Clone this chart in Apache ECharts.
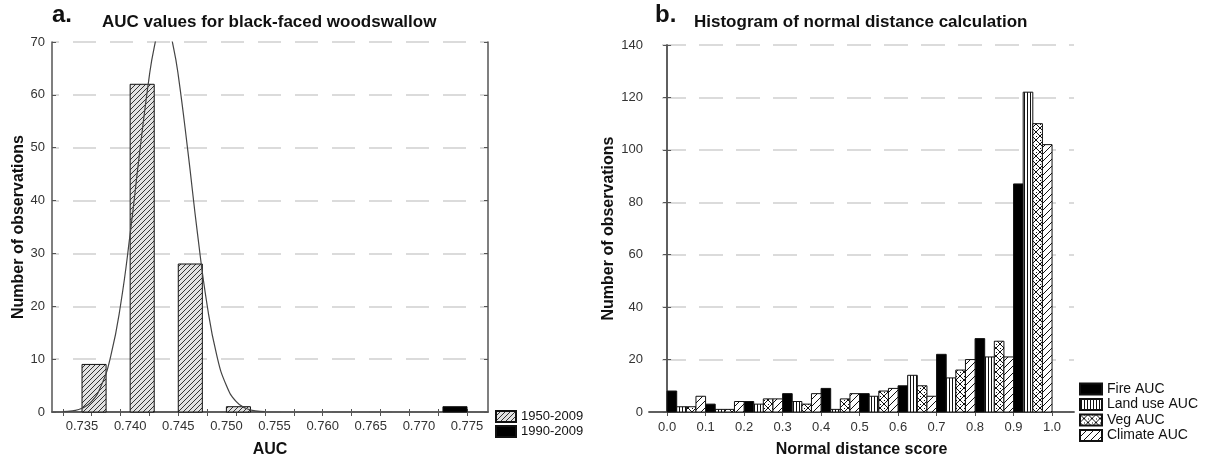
<!DOCTYPE html>
<html>
<head>
<meta charset="utf-8">
<script src="https://cdn.jsdelivr.net/npm/echarts@6/dist/echarts.min.js"></script>
<style>
html,body{margin:0;padding:0;background:#fff;}
#c{width:1207px;height:463px;}
</style>
</head>
<body>
<div id="c"></div>
<script>
// ---------- data (panel a) ----------
const aBinStarts1950 = [0.735, 0.740, 0.745, 0.750];
const aCounts1950 = [9, 62, 28, 1];
const aBinStarts1990 = [0.770];
const aCounts1990 = [1];
const aBinWidth = 0.005;
const aCurveX = [0.7330, 0.7340, 0.7350, 0.7360, 0.7370, 0.7380, 0.7390, 0.7400, 0.7410, 0.7420, 0.7425, 0.7430, 0.7435, 0.7440, 0.7445, 0.7450, 0.7460, 0.7470, 0.7480, 0.7490, 0.7500, 0.7510, 0.7520, 0.7530, 0.7540];
const aCurveY = [0.07, 0.23, 0.7, 2.0, 5.0, 10.7, 20.2, 33.7, 49.3, 63.7, 69, 72.3, 73.5, 72.3, 69, 63.7, 49.3, 33.7, 20.2, 10.7, 5.0, 2.0, 0.7, 0.23, 0.07];
const aTickLabels = [0.735, 0.740, 0.745, 0.750, 0.755, 0.760, 0.765, 0.770, 0.775];
const aMinorTicks = [0.733, 0.736, 0.739, 0.742, 0.745, 0.748, 0.751, 0.754, 0.757, 0.760, 0.763, 0.766, 0.769, 0.772, 0.775];
const aSeriesNames = ['1950-2009', '1990-2009'];

// ---------- data (panel b) ----------
const bBinStarts = [0.0, 0.1, 0.2, 0.3, 0.4, 0.5, 0.6, 0.7, 0.8, 0.9];
const bBinWidth = 0.1;
const bFire = [8, 3, 4, 7, 9, 7, 10, 22, 28, 87];
const bLandUse = [2, 1, 3, 4, 1, 6, 14, 13, 21, 122];
const bVeg = [2, 1, 5, 3, 5, 8, 10, 16, 27, 110];
const bClimate = [6, 4, 5, 7, 7, 9, 6, 20, 21, 102];
const bTickLabels = [0.0, 0.1, 0.2, 0.3, 0.4, 0.5, 0.6, 0.7, 0.8, 0.9, 1.0];
const bSeriesNames = ['Fire AUC', 'Land use AUC', 'Veg AUC', 'Climate AUC'];

// ---------- patterns ----------
function pattern(size, bg, fg, kind, lw) {
  const c = document.createElement('canvas');
  c.width = size; c.height = size;
  const g = c.getContext('2d');
  g.fillStyle = bg; g.fillRect(0, 0, size, size);
  g.strokeStyle = fg; g.lineWidth = lw;
  g.beginPath();
  if (kind === 'fwd' || kind === 'cross') {
    for (const k of [-size, 0, size]) { g.moveTo(k, size); g.lineTo(k + size, 0); }
  }
  if (kind === 'back' || kind === 'cross') {
    for (const k of [-size, 0, size]) { g.moveTo(k, 0); g.lineTo(k + size, size); }
  }
  if (kind === 'vert') {
    g.moveTo(Math.floor(size / 2) + 0.5, 0); g.lineTo(Math.floor(size / 2) + 0.5, size);
  }
  g.stroke();
  if (kind === 'cross') {
    g.fillStyle = fg;
    g.fillRect(Math.floor(size / 2), 0, 1, 1);
    g.fillRect(0, Math.floor(size / 2), 1, 1);
  }
  return { image: c, repeat: 'repeat' };
}
const patA = pattern(5, '#e2e2e2', '#333', 'fwd', 1);
const patFire = '#000';
const patLand = pattern(3, '#fff', '#111', 'vert', 1);
const patVeg = pattern(8, '#fff', '#111', 'cross', 1);
const patClimate = pattern(7, '#fff', '#111', 'fwd', 1);

const FONT = 'Liberation Sans, Arial, sans-serif';

function histRender(binW, nSub, idx, fill) {
  return function (params, api) {
    const x0 = api.value(0) + binW * idx / nSub;
    const x1 = x0 + binW / nSub;
    const p0 = api.coord([x0, api.value(1)]);
    const p1 = api.coord([x1, 0]);
    return {
      type: 'rect',
      shape: { x: p0[0], y: p0[1], width: p1[0] - p0[0], height: p1[1] - p0[1] },
      style: { fill: fill, stroke: '#111', lineWidth: 1 }
    };
  };
}
function zip(xs, ys) { return xs.map((x, i) => [x, ys[i]]); }

const axisLineStyle = { show: true, lineStyle: { color: '#555', width: 1.5 } };
const gridLine = { show: true, lineStyle: { color: '#cfcfcf', width: 1.5, type: [23, 14], dashOffset: 16 } };
const tickLbl = { color: '#333', fontSize: 13, fontFamily: FONT };
const nameStyle = { color: '#111', fontSize: 16, fontWeight: 'bold', fontFamily: FONT };
const titleStyle = { fontSize: 17, fontWeight: 'bold', color: '#111', fontFamily: FONT };
const letterStyle = { fontSize: 24, fontWeight: 'bold', color: '#111', fontFamily: FONT };

const option = {
  animation: false,
  backgroundColor: '#fff',
  title: [
    { text: 'a.', left: 52, top: 3, padding: 0, textStyle: letterStyle },
    { text: 'AUC values for black-faced woodswallow', left: 102, top: 14, padding: 0, textStyle: titleStyle },
    { text: 'b.', left: 655, top: 3, padding: 0, textStyle: letterStyle },
    { text: 'Histogram of normal distance calculation', left: 694, top: 14, padding: 0, textStyle: titleStyle }
  ],
  legend: [
    {
      data: aSeriesNames, orient: 'vertical', left: 495, top: 410, padding: 0,
      itemWidth: 20, itemHeight: 11, itemGap: 2, icon: 'rect',
      textStyle: { fontSize: 13, color: '#111', fontFamily: FONT },
      selectedMode: false
    },
    {
      data: bSeriesNames, orient: 'vertical', left: 1079, top: 382, padding: 0,
      itemWidth: 22, itemHeight: 11, itemGap: 1.5, icon: 'rect',
      textStyle: { fontSize: 14, color: '#111', fontFamily: FONT },
      selectedMode: false
    }
  ],
  grid: [
    { left: 52, right: 719, top: 42, bottom: 50 },
    { left: 649, right: 133, top: 45, bottom: 48 }
  ],
  xAxis: [
    {
      gridIndex: 0, type: 'value', position: 'bottom', min: 0.73188, max: 0.77718,
      axisLine: axisLineStyle,
      axisTick: { show: true, inside: true, length: 3, customValues: aMinorTicks, lineStyle: { color: '#555' } },
      axisLabel: Object.assign({ customValues: aTickLabels, margin: 8, formatter: v => Number(v).toFixed(3) }, tickLbl),
      splitLine: { show: false },
      name: 'AUC', nameLocation: 'middle', nameGap: 30, nameTextStyle: nameStyle
    },
    {
      gridIndex: 0, type: 'value', position: 'top', min: 0.73188, max: 0.77718,
      axisLine: axisLineStyle,
      axisTick: { show: true, inside: true, length: 4, customValues: aMinorTicks, lineStyle: { color: '#555' } },
      axisLabel: { show: false }, splitLine: { show: false }
    },
    {
      gridIndex: 1, type: 'value', position: 'bottom', min: -0.047, max: 1.057,
      axisLine: axisLineStyle,
      axisTick: { show: false },
      axisLabel: Object.assign({ customValues: bTickLabels, margin: 9, formatter: v => Number(v).toFixed(1) }, tickLbl),
      splitLine: { show: false },
      name: 'Normal distance score', nameLocation: 'middle', nameGap: 30, nameTextStyle: nameStyle
    },
    {
      gridIndex: 1, type: 'value', position: 'top', min: -0.047, max: 1.057,
      axisLine: axisLineStyle,
      axisTick: { show: true, inside: true, length: 4, customValues: bTickLabels, lineStyle: { color: '#555' } },
      axisLabel: { show: false }, splitLine: { show: false }
    }
  ],
  yAxis: [
    {
      gridIndex: 0, type: 'value', min: 0, max: 70, interval: 10, position: 'left',
      axisLine: axisLineStyle,
      axisTick: { show: true, inside: true, length: 4, lineStyle: { color: '#555' } },
      axisLabel: Object.assign({ margin: 7 }, tickLbl),
      splitLine: gridLine,
      name: 'Number of observations', nameLocation: 'middle', nameRotate: 90, nameGap: 21, nameTextStyle: nameStyle
    },
    {
      gridIndex: 0, type: 'value', min: 0, max: 70, interval: 10, position: 'right',
      axisLine: axisLineStyle,
      axisTick: { show: true, inside: true, length: 4, lineStyle: { color: '#555' } },
      axisLabel: { show: false }, splitLine: { show: false }
    },
    {
      gridIndex: 1, type: 'value', min: 0, max: 140, interval: 20, position: 'left',
      axisLine: axisLineStyle,
      axisTick: { show: true, inside: true, length: 4, lineStyle: { color: '#555' } },
      axisLabel: Object.assign({ margin: 6 }, tickLbl),
      splitLine: { show: true, lineStyle: { color: '#cfcfcf', width: 1.5, type: [24, 13], dashOffset: 24 } },
      name: 'Number of observations', nameLocation: 'middle', nameRotate: 90, nameGap: 32, nameTextStyle: nameStyle
    },
    {
      gridIndex: 1, type: 'value', min: 0, max: 140, interval: 20, position: 'right',
      axisLine: axisLineStyle,
      axisTick: { show: true, inside: true, length: 4, lineStyle: { color: '#555' } },
      axisLabel: { show: false }, splitLine: { show: false }
    }
  ],
  series: [
    {
      name: aSeriesNames[0], type: 'custom', xAxisIndex: 0, yAxisIndex: 0,
      itemStyle: { color: patA, borderColor: '#111', borderWidth: 1 },
      renderItem: histRender(aBinWidth, 2, 0, patA), data: zip(aBinStarts1950, aCounts1950), z: 2
    },
    {
      name: aSeriesNames[1], type: 'custom', xAxisIndex: 0, yAxisIndex: 0,
      itemStyle: { color: '#000', borderColor: '#111', borderWidth: 1 },
      renderItem: histRender(aBinWidth, 2, 1, '#000'), data: zip(aBinStarts1990, aCounts1990), z: 2
    },
    {
      name: 'Normal fit', type: 'line', xAxisIndex: 0, yAxisIndex: 0, smooth: true, symbol: 'none',
      lineStyle: { color: '#444', width: 1.2 }, data: zip(aCurveX, aCurveY), z: 5, clip: true
    },
    {
      name: bSeriesNames[0], type: 'custom', xAxisIndex: 2, yAxisIndex: 2,
      itemStyle: { color: patFire, borderColor: '#111', borderWidth: 1 },
      renderItem: histRender(bBinWidth, 4, 0, patFire), data: zip(bBinStarts, bFire)
    },
    {
      name: bSeriesNames[1], type: 'custom', xAxisIndex: 2, yAxisIndex: 2,
      itemStyle: { color: patLand, borderColor: '#111', borderWidth: 1 },
      renderItem: histRender(bBinWidth, 4, 1, patLand), data: zip(bBinStarts, bLandUse)
    },
    {
      name: bSeriesNames[2], type: 'custom', xAxisIndex: 2, yAxisIndex: 2,
      itemStyle: { color: patVeg, borderColor: '#111', borderWidth: 1 },
      renderItem: histRender(bBinWidth, 4, 2, patVeg), data: zip(bBinStarts, bVeg)
    },
    {
      name: bSeriesNames[3], type: 'custom', xAxisIndex: 2, yAxisIndex: 2,
      itemStyle: { color: patClimate, borderColor: '#111', borderWidth: 1 },
      renderItem: histRender(bBinWidth, 4, 3, patClimate), data: zip(bBinStarts, bClimate)
    }
  ]
};
const chart = echarts.init(document.getElementById('c'), null, { renderer: 'canvas' });
chart.setOption(option);
</script>
</body>
</html>
